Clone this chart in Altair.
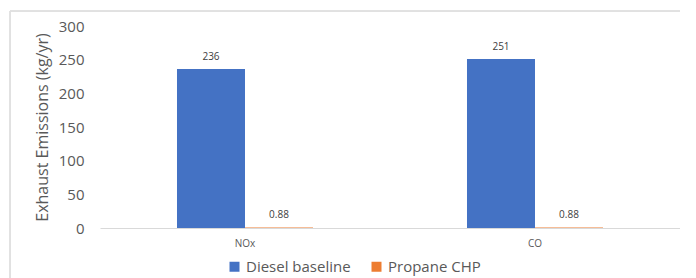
import altair as alt
import pandas as pd

categories = ["NOx", "CO"]
series = ["Diesel baseline", "Propane CHP"]
diesel = [236, 251]
propane = [0.88, 0.88]
labels_diesel = ["236", "251"]
labels_propane = ["0.88", "0.88"]
y_ticks = [0, 50, 100, 150, 200, 250, 300]
colors = ["#4472C4", "#ED7D31"]

rows = []
for i, c in enumerate(categories):
    rows.append({"cat": c, "series": series[0], "value": diesel[i], "label": labels_diesel[i]})
    rows.append({"cat": c, "series": series[1], "value": propane[i], "label": labels_propane[i]})
df = pd.DataFrame(rows)

font = "Open Sans"

base = alt.Chart(df).encode(
    x=alt.X("cat:N", sort=categories, title=None,
            scale=alt.Scale(paddingInner=0.531, paddingOuter=0.2655),
            axis=alt.Axis(labelAngle=0, labelFontSize=10, labelColor="#595959",
                          labelFont=font, ticks=False, domainColor="#d9d9d9",
                          labelPadding=10, domainWidth=1)),
    xOffset=alt.XOffset("series:N", sort=series,
                        scale=alt.Scale(paddingInner=0.0, paddingOuter=0.0)),
    y=alt.Y("value:Q", title="Exhaust Emissions (kg/yr)",
            scale=alt.Scale(domain=[0, 300]),
            axis=alt.Axis(values=y_ticks, grid=False,
                          domain=False, ticks=False, labelFontSize=15,
                          labelColor="#595959", labelFont=font, labelPadding=16,
                          labelOverlap=False, labelBound=False, labelFlush=False,
                          titleFontSize=16, titleColor="#595959", titleFont=font,
                          titleFontWeight="normal", titlePadding=8)),
)

bars = base.mark_bar().encode(
    color=alt.Color("series:N", sort=series,
                    scale=alt.Scale(domain=series, range=colors),
                    legend=alt.Legend(title=None, orient="none", direction="horizontal",
                                      legendX=127, legendY=233, symbolType="square",
                                      symbolSize=100, labelFontSize=15, labelFont=font,
                                      labelColor="#595959", columnPadding=18,
                                      symbolStrokeWidth=0)),
)

text = base.mark_text(dy=-12, fontSize=10, color="#404040", font=font).encode(
    text="label:N",
)

border = alt.Chart(df).mark_rect(fill=None, stroke="#e0e0e0", strokeWidth=1).encode(
    x=alt.value(-90), x2=alt.value(587), y=alt.value(-15), y2=alt.value(270)
)

chart = alt.layer(border, bars, text).properties(
    width=580, height=202,
    autosize=alt.AutoSizeParams(type="none"),
    padding={"left": 92, "top": 18, "right": 0, "bottom": 60},
).configure_view(stroke=None)

chart.save("out.html", embed_options={"renderer": "svg", "actions": False})
